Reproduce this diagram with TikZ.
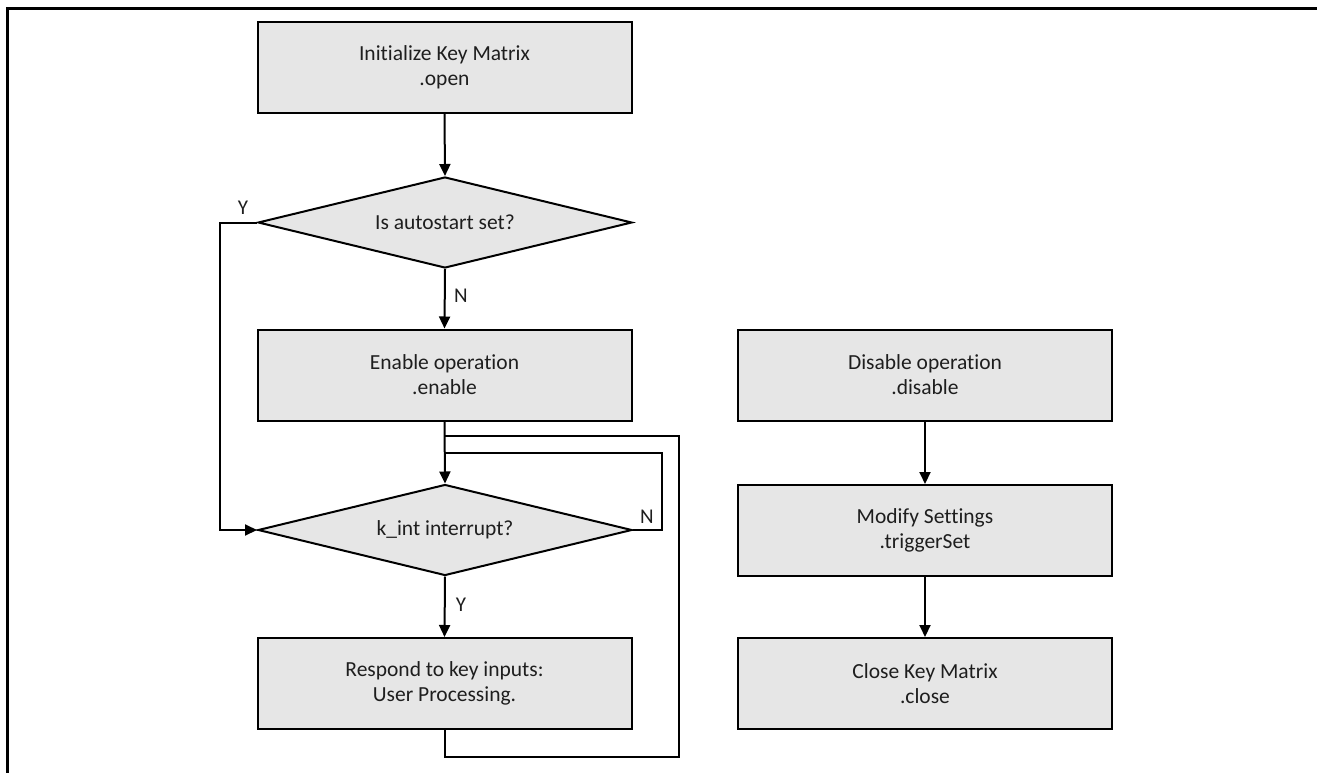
\documentclass[tikz,border=0pt]{standalone}
\usepackage{fontspec}
\setmainfont[Ligatures={NoCommon}]{Carlito}
\usetikzlibrary{shapes.geometric,arrows.meta}
\definecolor{boxfill}{RGB}{230,230,230}
\definecolor{txt}{RGB}{30,30,30}
\tikzset{
  procbox/.style={draw=black, line width=2pt, fill=boxfill, minimum width=374pt, minimum height=91pt, inner sep=0pt, align=center, text=txt, font=\fontsize{21.5}{25}\selectfont},
  decbox/.style={draw=black, line width=2pt, fill=boxfill, shape=diamond, aspect=4, minimum width=374pt, minimum height=91pt, inner sep=0pt, align=center, text=txt, font=\fontsize{21.5}{25}\selectfont},
  conn/.style={line width=2pt, draw=black},
  arr/.style={conn, -{Triangle[length=12pt,width=11pt]}},
  lbl/.style={text=txt, font=\fontsize{21}{24}\selectfont, inner sep=0pt}
}
\begin{document}
\begin{tikzpicture}[x=1pt,y=-1pt]
\useasboundingbox (0,0) rectangle (1317,773);
% frame
\draw[line width=3pt] (7.5,773) -- (7.5,8.5) -- (1317,8.5);
% left column
\node[procbox] (init) at (444.5,67.5) {Initialize Key Matrix\\.open};
\node[decbox] (d1) at (445,222.5) {Is autostart set?};
\node[procbox] (en) at (444.5,375) {Enable operation\\.enable};
\node[decbox] (d2) at (445,530) {k\_int interrupt?};
\node[procbox] (resp) at (444.5,683.5) {Respond to key inputs:\\User Processing.};
% right column
\node[procbox] (dis) at (925,375) {Disable operation\\.disable};
\node[procbox] (mod) at (925,530.5) {Modify Settings\\.triggerSet};
\node[procbox] (close) at (925,683.5) {Close Key Matrix\\.close};
% junction coordinates
\coordinate (j1) at (445,453);
\coordinate (j2) at (445,436);
\coordinate (c1) at (220,222.5);
\coordinate (c2) at (662,453);
\coordinate (c3) at (679,757);
% connectors
\draw[arr] (init.south) -- (d1.north);
\draw[arr] (d1.south) -- (en.north);
\draw[arr] (en.south) -- (d2.north);
\draw[arr] (d2.south) -- (resp.north);
\draw[arr] (d1.west) -- (c1) |- (d2.west);
\draw[conn] (d2.east) -| (c2) -- (j1);
\draw[conn] (resp.south) |- (c3) |- (j2);
\draw[arr] (dis.south) -- (mod.north);
\draw[arr] (mod.south) -- (close.north);
% labels
\node[lbl] (ly1) at (243,208) {Y};
\node[lbl] (ln1) at (461,296) {N};
\node[lbl] (ln2) at (647,517) {N};
\node[lbl] (ly2) at (461,605) {Y};
\end{tikzpicture}
\end{document}
